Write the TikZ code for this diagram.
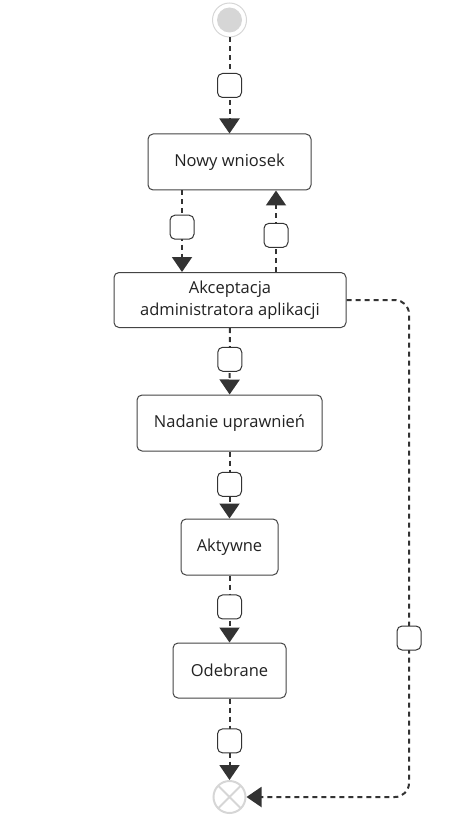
\documentclass[tikz,border=0pt]{standalone}
\usepackage{fontspec}
\setmainfont{Open Sans}
\usetikzlibrary{arrows.meta,calc}
\definecolor{edgec}{HTML}{333333}
\definecolor{boxc}{HTML}{444444}
\definecolor{textc}{HTML}{222222}
\definecolor{lightc}{HTML}{D6D6D6}
\begin{document}
\begin{tikzpicture}[x=1pt,y=-1pt,
  statebox/.style={draw=boxc,line width=1pt,fill=white,rounded corners=5pt,
    inner sep=0pt,align=center,text=textc,font=\fontsize{16.5}{22}\selectfont},
  lbl/.style={draw=edgec,solid,line width=1pt,fill=white,rounded corners=5pt,
    minimum width=24pt,minimum height=24pt,inner sep=0pt},
  flow/.style={draw=edgec,line width=2pt,dash pattern=on 5pt off 4pt,
    -{Triangle[width=20pt,length=15pt]}},
]
\useasboundingbox (0,0) rectangle (459,818);
\node[circle,draw=lightc,line width=1pt,minimum size=34pt,inner sep=0pt] (start) at (229.5,20) {};
\fill[lightc] (start.center) circle (12.5pt);
\node[statebox,minimum width=163pt,minimum height=56pt] (nowy) at (229.5,162) {Nowy wniosek};
\node[statebox,minimum width=232pt,minimum height=55pt] (akc) at (230,300) {Akceptacja\\administratora aplikacji};
\node[statebox,minimum width=185pt,minimum height=56pt] (nad) at (229.5,423) {Nadanie uprawnień};
\node[statebox,minimum width=97pt,minimum height=56pt] (akt) at (229.5,547) {Aktywne};
\node[statebox,minimum width=113pt,minimum height=55pt] (ode) at (229.5,670.5) {Odebrane};
\node[circle,draw=lightc,line width=2pt,minimum size=32pt,inner sep=0pt] (endc) at (229.5,797) {};
\draw[lightc,line width=2pt] ($(endc.center)+(-11,-11)$) -- ($(endc.center)+(11,11)$)
  ($(endc.center)+(-11,11)$) -- ($(endc.center)+(11,-11)$);
\coordinate (rc) at (409,797);
\path[flow] (start) -- node[lbl,pos=0.5] (l1) {} (nowy);
\path[flow] (nowy.south -| 182,0) -- node[lbl,pos=0.45] (l2) {} (akc.north -| 182,0);
\path[flow] (akc.north -| 276,0) -- node[lbl,pos=0.45] (l3) {} (nowy.south -| 276,0);
\path[flow] (akc) -- node[lbl,pos=0.47] (l4) {} (nad);
\path[flow] (nad) -- node[lbl,pos=0.49] (l5) {} (akt);
\path[flow] (akt) -- node[lbl,pos=0.47] (l6) {} (ode);
\path[flow] (ode) -- node[lbl,pos=0.52] (l7) {} (endc);
\path[flow,rounded corners=14pt] (akc.east) -| (rc) -- (endc.east);
\node[lbl] (l8) at (409,638) {};
\end{tikzpicture}
\end{document}
